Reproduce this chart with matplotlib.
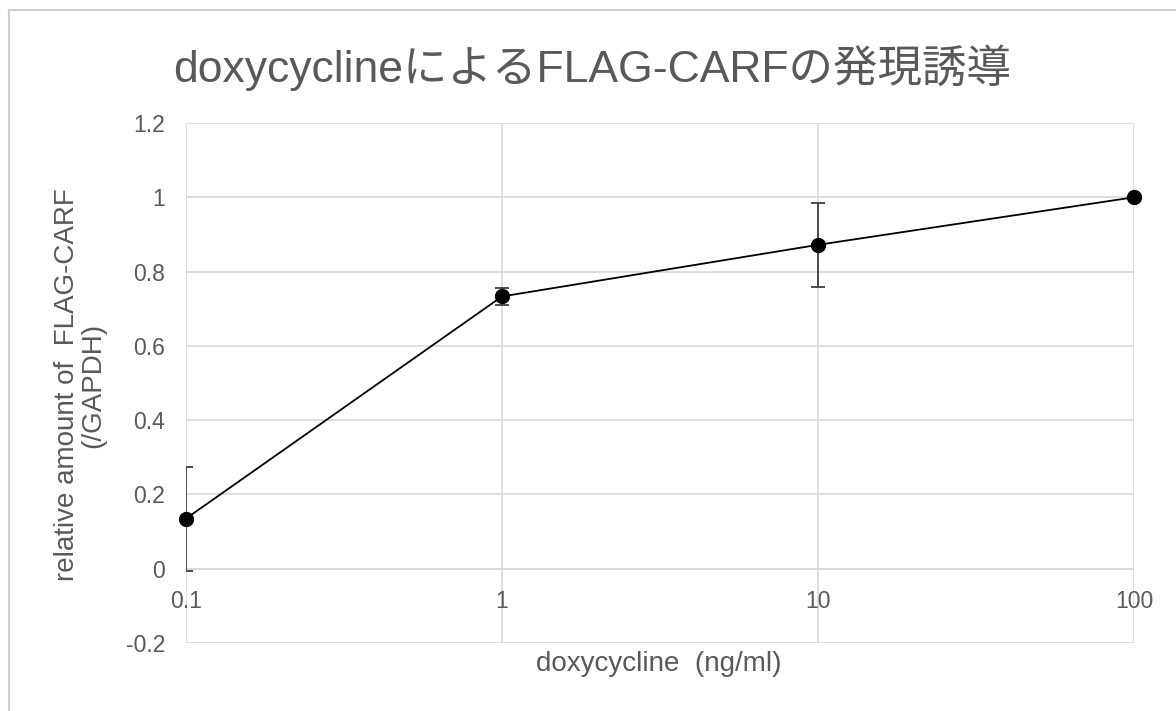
import matplotlib
matplotlib.use("Agg")
import matplotlib.pyplot as plt
from matplotlib.lines import Line2D

# Dose-response data
dose = [0.1, 1, 10, 100]
relative_amount = [0.135, 0.733, 0.872, 1.0]
error = [0.14, 0.022, 0.113, 0.0]

x_ticks = [0.1, 1, 10, 100]
x_tick_labels = ["0.1", "1", "10", "100"]
y_ticks = [-0.2, 0, 0.2, 0.4, 0.6, 0.8, 1.0, 1.2]
y_tick_labels = ["-0.2", "0", "0.2", "0.4", "0.6", "0.8", "1", "1.2"]

title = "doxycyclineによるFLAG-CARFの発現誘導"
x_label = "doxycycline  (ng/ml)"
y_label = "relative amount of  FLAG-CARF\n(/GAPDH)"

TEXT = "#595959"
GRID = "#d9d9d9"
FONT = ["Liberation Sans", "Noto Sans CJK JP", "DejaVu Sans"]
plt.rcParams["font.family"] = FONT

W, H = 1176, 711
fig = plt.figure(figsize=(W / 100, H / 100), dpi=100)

# chart frame (top and left edges)
fig.add_artist(Line2D([9 / W, 9 / W], [0, 1 - 10 / H], transform=fig.transFigure,
                      color="#cfcfcf", lw=1.5))
fig.add_artist(Line2D([9 / W, 1], [1 - 10 / H, 1 - 10 / H], transform=fig.transFigure,
                      color="#cfcfcf", lw=1.5))

left, right, top, bottom = 186, 1134, 123, 643
ax = fig.add_axes([left / W, 1 - bottom / H, (right - left) / W, (bottom - top) / H])
ax.set_xscale("log")
ax.set_xlim(0.1, 100)
ax.set_ylim(-0.2, 1.2)

for s in ax.spines.values():
    s.set_visible(False)

ax.set_yticks(y_ticks)
ax.set_yticklabels(y_tick_labels)
ax.set_xticks(x_ticks)
ax.set_xticklabels([])
ax.minorticks_off()
ax.tick_params(axis="both", length=0, colors=TEXT, labelsize=16.5)
ax.tick_params(axis="y", pad=15)
ax.grid(True, color=GRID, lw=1.2)
ax.set_axisbelow(True)

# x tick labels sit below the y = 0 axis line
for xv, lab in zip(x_ticks, x_tick_labels):
    ax.text(xv, -0.088, lab, ha="center", va="center", color=TEXT, fontsize=16.5)

# y = 0 axis line
ax.axhline(0, color=GRID, lw=1.2, zorder=1)

ax.errorbar(dose, relative_amount, yerr=error, fmt="none", ecolor="#404040",
            elinewidth=1.3, capsize=5, capthick=1.3, zorder=2)
ax.plot(dose, relative_amount, color="black", lw=1.3, marker="o", markersize=10,
        clip_on=False, zorder=3)

fig.text(592 / W, 1 - 68 / H, title, ha="center", va="center", color=TEXT,
         fontsize=32, family=FONT)
fig.text(659 / W, 1 - 664 / H, x_label, ha="center", va="center", color=TEXT,
         fontsize=20)
fig.text(80 / W, 1 - 385 / H, y_label, ha="center", va="center", color=TEXT,
         fontsize=20, rotation=90, multialignment="center", linespacing=1.05)

fig.savefig("out.png", dpi=100)
